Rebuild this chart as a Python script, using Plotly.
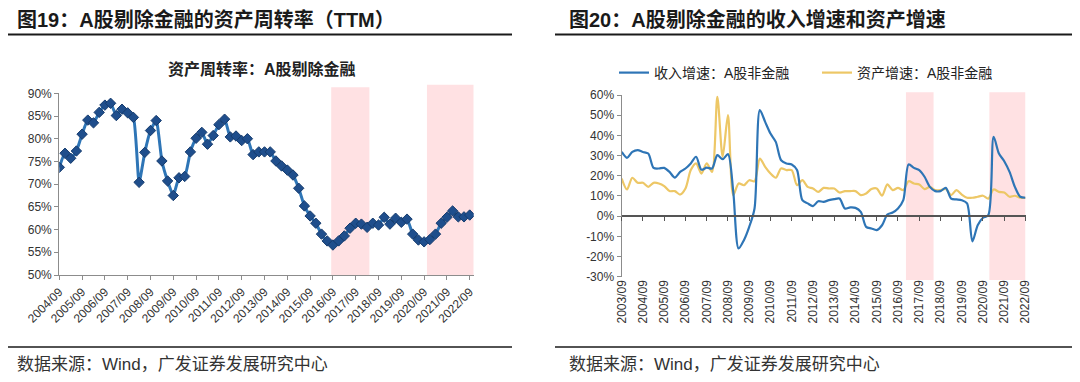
import plotly.graph_objects as go

# ---------------- data ----------------
# Left: asset turnover (TTM), quarterly 2004/09 .. 2022/09 (%)
turnover = [73.7, 76.8, 75.7, 77.3, 81.0, 84.1, 83.5, 85.8, 87.4, 87.8,
            85.1, 86.5, 85.7, 84.7, 70.4, 77.0, 81.8, 84.0, 75.1, 70.7,
            67.5, 71.4, 71.7, 77.1, 80.1, 81.4, 78.8, 80.7, 83.1, 84.3,
            80.4, 80.6, 79.6, 80.0, 76.5, 77.1, 77.1, 77.1, 75.1, 74.0,
            73.1, 72.0, 69.1, 65.2, 63.0, 61.4, 59.0, 57.5, 56.6, 57.5,
            58.6, 60.3, 61.4, 61.2, 60.5, 61.4, 61.0, 62.7, 61.2, 62.5,
            61.6, 62.3, 59.0, 57.7, 57.3, 57.8, 59.0, 61.4, 62.7, 64.1,
            62.8, 62.8, 63.2]
left_ticklabels = ['2004/09', '2005/09', '2006/09', '2007/09', '2008/09', '2009/09',
                   '2010/09', '2011/09', '2012/09', '2013/09', '2014/09', '2015/09',
                   '2016/09', '2017/09', '2018/09', '2019/09', '2020/09', '2021/09',
                   '2022/09']
left_yticks = [50, 55, 60, 65, 70, 75, 80, 85, 90]

# Right: revenue growth and asset growth, quarterly 2003/09 .. 2022/09 (%)
revenue_growth = [31.8, 28.9, 31.8, 32.7, 31.8, 31.0, 23.9, 23.6, 23.9, 21.9,
                  19.1, 21.9, 23.6, 26.1, 29.4, 23.0, 24.0, 23.6, 30.2, 28.2,
                  30.7, 12.0, -16.0, -11.9, -5.3, 3.8, 52.5, 46.7, 40.9, 36.8,
                  27.7, 26.1, 25.6, 22.8, 7.9, 6.3, 5.0, 7.4, 7.1, 7.9,
                  8.4, 8.7, 3.8, 4.3, 4.1, 2.1, -5.3, -6.1, -6.9, -4.5,
                  0.8, 1.8, 3.8, 7.9, 25.6, 23.9, 22.8, 19.5, 14.5, 12.4,
                  12.4, 14.0, 8.7, 8.3, 7.9, 6.3, -12.5, -4.5, -0.8, 0.5,
                  39.3, 31.0, 27.2, 21.9, 14.5, 9.6, 9.1]
asset_growth = [18.6, 13.2, 19.0, 16.5, 16.5, 14.5, 16.5, 16.2, 14.9, 12.4,
                12.4, 10.7, 13.7, 22.8, 26.1, 21.1, 26.1, 21.9, 59.1, 29.4,
                50.0, 10.4, 16.2, 15.3, 17.8, 17.3, 28.5, 24.4, 21.1, 19.0,
                23.6, 22.8, 22.8, 15.3, 17.8, 14.5, 13.7, 12.0, 14.0, 13.7,
                13.7, 11.7, 12.4, 12.4, 12.4, 10.4, 11.2, 13.4, 13.7, 10.1,
                15.7, 12.9, 14.0, 12.9, 17.3, 16.2, 15.7, 13.4, 14.5, 12.9,
                12.9, 13.4, 10.4, 12.9, 10.7, 9.1, 9.1, 9.6, 10.1, 8.7,
                13.2, 12.0, 11.7, 9.6, 10.1, 9.1, 9.1]
right_ticklabels = ['2003/09', '2004/09', '2005/09', '2006/09', '2007/09', '2008/09',
                    '2009/09', '2010/09', '2011/09', '2012/09', '2013/09', '2014/09',
                    '2015/09', '2016/09', '2017/09', '2018/09', '2019/09', '2020/09',
                    '2021/09', '2022/09']
right_yticks = [-30, -20, -10, 0, 10, 20, 30, 40, 50, 60]

# shaded periods (quarter index positions)
left_shades = [[47.7, 54.4, 87.3], [64.5, 72.7, 84.7]]
right_shades = [[53.5, 58.7], [69.2, 76.0]]

# ---------------- figure ----------------
FONT = "Liberation Sans, Arial, Noto Sans CJK SC"
AX = '#8c8c8c'
TXT = '#333333'

# page has an 8px body margin: build the figure in page pixels
OFF = 8
W, H = 1080 - OFF, 382 - OFF


def xf(px):
    return max(0.0, (px - OFF) / W)


def yf(py):
    return 1 - (py - OFF) / H


fig = go.Figure()

fig.add_trace(go.Scatter(
    x=list(range(len(turnover))), y=turnover, mode='lines+markers',
    line=dict(color='#2E75B6', width=3, shape='spline', smoothing=0.5),
    marker=dict(symbol='diamond', size=8, color='#1F4E8C',
                line=dict(color='#163C6E', width=1)),
    showlegend=False, xaxis='x', yaxis='y'))

fig.add_trace(go.Scatter(
    x=list(range(len(asset_growth))), y=asset_growth, mode='lines',
    name='资产增速：A股非金融', legendrank=2,
    line=dict(color='#EDC766', width=2.2, shape='spline', smoothing=0.8),
    xaxis='x2', yaxis='y2'))
fig.add_trace(go.Scatter(
    x=list(range(len(revenue_growth))), y=revenue_growth, mode='lines',
    name='收入增速：A股非金融', legendrank=1,
    line=dict(color='#2E75B6', width=2.2, shape='spline', smoothing=0.8),
    xaxis='x2', yaxis='y2'))
# helper trace for the zero-line axis
fig.add_trace(go.Scatter(x=[], y=[], xaxis='x3', yaxis='y2', showlegend=False))

left_dom = [xf(59.3), xf(473.7)]
left_ydom = [yf(275), yf(93.3)]
right_dom = [xf(621.7), xf(1025.5)]
right_ydom = [yf(276.7), yf(95)]
zero_pos = right_ydom[0] + (right_ydom[1] - right_ydom[0]) * (0 - (-30)) / 90

n_left = len(turnover)
n_right = len(revenue_growth)

fig.update_layout(
    width=W, height=H,
    margin=dict(l=0, r=0, t=0, b=0, autoexpand=False),
    paper_bgcolor='white', plot_bgcolor='rgba(0,0,0,0)',
    font=dict(family=FONT, size=12, color=TXT),
    xaxis=dict(domain=left_dom, anchor='y', range=[0, 72.7], automargin=False,
               tickvals=list(range(0, n_left, 4)), ticktext=left_ticklabels,
               tickangle=-45, ticks='outside', ticklen=4, tickcolor=AX,
               showline=True, linecolor=AX, linewidth=1.3, showgrid=False,
               zeroline=False, tickfont=dict(size=12, color=TXT)),
    yaxis=dict(domain=left_ydom, anchor='x', range=[50, 90], automargin=False,
               tickvals=left_yticks, ticktext=[f'{v}%' for v in left_yticks],
               ticks='outside', ticklen=4, tickcolor=AX,
               showline=True, linecolor=AX, linewidth=1.3, showgrid=False,
               zeroline=False, tickfont=dict(size=12, color=TXT)),
    xaxis2=dict(domain=right_dom, anchor='y2', range=[0, n_right - 1], automargin=False,
                tickvals=list(range(0, n_right, 4)), ticktext=right_ticklabels,
                tickangle=-90, ticks='', showline=False, showgrid=False,
                zeroline=False, tickfont=dict(size=12, color=TXT)),
    xaxis3=dict(overlaying='x2', anchor='free', position=zero_pos, automargin=False,
                range=[0, n_right - 1], tickvals=list(range(0, n_right, 4)),
                showticklabels=False, ticks='outside', ticklen=4, tickcolor='#555555',
                showline=True, linecolor='#555555', linewidth=1.5, showgrid=False,
                zeroline=False),
    yaxis2=dict(domain=right_ydom, anchor='x2', range=[-30, 60], automargin=False,
                tickvals=right_yticks, ticktext=[f'{v}%' for v in right_yticks],
                ticks='outside', ticklen=4, tickcolor=AX,
                showline=True, linecolor=AX, linewidth=1.3, showgrid=False,
                zeroline=False, tickfont=dict(size=12, color=TXT)),
    legend=dict(orientation='h', x=xf(614), y=yf(73),
                xanchor='left', yanchor='middle',
                entrywidth=158, entrywidthmode='pixels',
                font=dict(size=14, color='#222222'), bgcolor='rgba(0,0,0,0)'),
)

shapes = []
for x0, x1, top in left_shades:
    shapes.append(dict(type='rect', xref='x', yref='paper', x0=x0, x1=x1,
                       y0=left_ydom[0], y1=yf(top), fillcolor='#FFE1E3',
                       line=dict(width=0), layer='below'))
for x0, x1 in right_shades:
    shapes.append(dict(type='rect', xref='x2', yref='paper', x0=x0, x1=x1,
                       y0=yf(280), y1=yf(92.3), fillcolor='#FFE1E3',
                       line=dict(width=0), layer='below'))
# title rules and footer rules
for x0, x1 in [(3, 512), (555, 1075)]:
    shapes.append(dict(type='line', xref='paper', yref='paper',
                       x0=xf(x0), x1=xf(x1), y0=yf(34.5), y1=yf(34.5),
                       line=dict(color='#1a1a1a', width=2)))
    shapes.append(dict(type='line', xref='paper', yref='paper',
                       x0=xf(x0), x1=xf(x1), y0=yf(347), y1=yf(347),
                       line=dict(color='#1a1a1a', width=1.5)))
fig.update_layout(shapes=shapes)

ann = []
ann.append(dict(text='<b>图19：A股剔除金融的资产周转率（TTM）</b>', x=xf(15), y=yf(19),
                xref='paper', yref='paper', xanchor='left', yanchor='middle',
                showarrow=False, font=dict(size=20, color='#1a1a1a', family=FONT)))
ann.append(dict(text='<b>图20：A股剔除金融的收入增速和资产增速</b>', x=xf(567), y=yf(19),
                xref='paper', yref='paper', xanchor='left', yanchor='middle',
                showarrow=False, font=dict(size=20, color='#1a1a1a', family=FONT)))
ann.append(dict(text='<b>资产周转率：A股剔除金融</b>', x=xf(262), y=yf(69),
                xref='paper', yref='paper', xanchor='center', yanchor='middle',
                showarrow=False, font=dict(size=16, color='#222222', family=FONT)))
for xp in (15, 567):
    ann.append(dict(text='数据来源：Wind，广发证券发展研究中心', x=xf(xp), y=yf(364),
                    xref='paper', yref='paper', xanchor='left', yanchor='middle',
                    showarrow=False, font=dict(size=17, color='#333333', family=FONT)))
fig.update_layout(annotations=ann)

fig.write_html('out.html')
